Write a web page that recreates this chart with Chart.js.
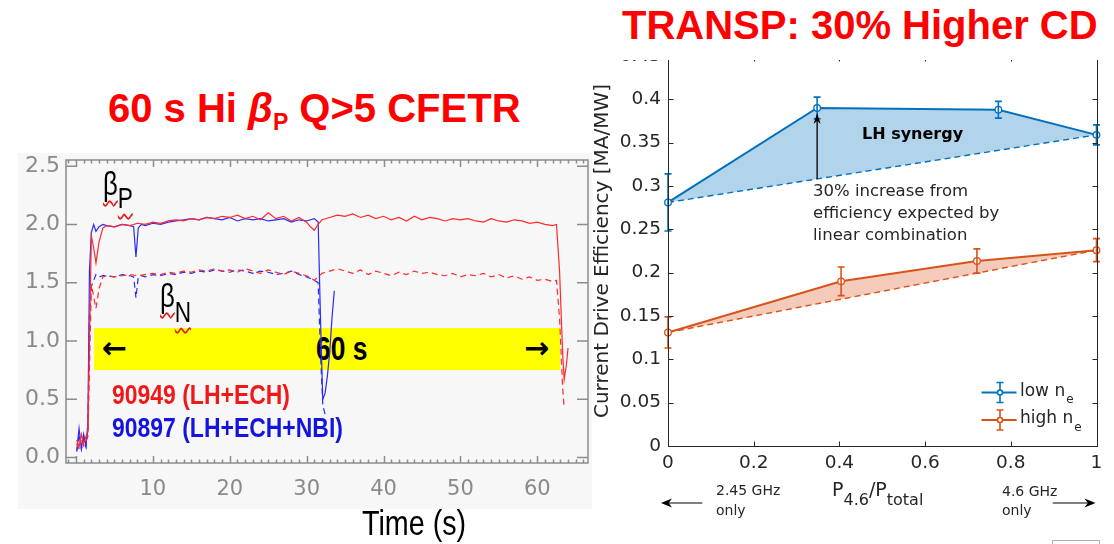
<!DOCTYPE html>
<html lang="en">
<head>
  <meta charset="UTF-8">
  <title>60 s high beta_P pulse and TRANSP LH current drive</title>
  <script src="https://cdn.jsdelivr.net/npm/chart.js"></script>
</head>
<style>
  body {
    margin: 0;
    width: 1114px;
    height: 544px;
    position: relative;
    overflow: hidden;
    background: #fff;
    font-family: 'DejaVu Sans', sans-serif;
    color: #262626;
  }

  .abs { position: absolute; white-space: nowrap; }
  canvas { position: absolute; }

  .headline {
    font-family: 'Liberation Sans', Arial, sans-serif;
    font-weight: bold;
    font-size: 40px;
    line-height: 40px;
    color: #ff0000;
  }

  /* condensed look for the slide annotations */
  .narrow {
    font-family: 'Liberation Sans', Arial, sans-serif;
    transform-origin: 0 50%;
  }

  .wavy {
    text-decoration: underline wavy #e21b1b;
    text-decoration-skip-ink: none;
    text-decoration-thickness: 1.5px;
    text-underline-offset: 5px;
  }

  .sub { position: relative; }
</style>
<body>

<div class="abs headline" style="left:108px; top:88px;">60 s Hi <i>β</i><span class="sub" style="font-size:23px; top:8px;">P</span> Q&gt;5 CFETR</div>

<!-- left panel: beta_P / beta_N traces -->
<div class="abs" style="left:18px; top:153px; width:574px; height:356px; background:#f7f7f7;"></div>
<div class="abs" style="left:94px; top:328px; width:466px; height:42px; background:#ffff00; color:#000;">
  <span class="abs" style="left:8px; top:-1px; font-weight:bold; font-size:30px; line-height:42px;">←</span>
  <span class="abs narrow" style="left:222px; top:0; font-weight:bold; font-size:33px; line-height:42px; transform:scaleX(0.8);">60 s</span>
  <span class="abs" style="left:430px; top:-1px; font-weight:bold; font-size:30px; line-height:42px;">→</span>
</div>
<canvas id="betaChart" width="600" height="394" style="left:0; top:150px;"></canvas>

<div class="abs narrow" style="left:103px; top:167px; font-size:33px; line-height:33px; color:#000; transform:scaleX(0.78);">
  <span class="wavy">β</span><span class="wavy sub" style="font-size:29px; top:13px;">P</span>
</div>
<div class="abs narrow" style="left:160px; top:279px; font-size:33px; line-height:33px; color:#000; transform:scaleX(0.78);">
  <span class="wavy">β</span><span class="wavy sub" style="font-size:29px; top:15px;">N</span>
</div>
<div class="abs narrow" style="left:112px; top:381px; font-weight:bold; font-size:28px; line-height:28px; color:#f21818; transform:scaleX(0.82);">90949 (LH+ECH)</div>
<div class="abs narrow" style="left:112px; top:414px; font-weight:bold; font-size:28px; line-height:28px; color:#1414e0; transform:scaleX(0.82);">90897 (LH+ECH+NBI)</div>
<div class="abs narrow" style="left:362px; top:505px; font-size:35px; line-height:35px; color:#000; transform:scaleX(0.82);">Time (s)</div>

<!-- right panel: current drive efficiency -->
<canvas id="cdChart" width="524" height="504" style="left:590px; top:40px;"></canvas>
<div class="abs" style="left:600px; top:0; width:514px; height:60px; background:#fff;"></div>
<div class="abs headline" style="left:622px; top:5px;">TRANSP: 30% Higher CD</div>

<div class="abs" style="left:862px; top:126px; font-weight:bold; font-size:16px; line-height:16px; color:#000;">LH synergy</div>
<div class="abs" style="left:813px; top:180px; font-size:16.5px; line-height:22.2px;">30% increase from<br>efficiency expected by<br>linear combination</div>
<div class="abs" style="left:832px; top:480px; font-size:19px; line-height:19px;">P<span class="sub" style="font-size:16px; top:9px;">4.6</span>/P<span class="sub" style="font-size:16px; top:9px;">total</span></div>
<div class="abs" style="left:716px; top:480px; font-size:14px; line-height:20px;">2.45 GHz<br>only</div>
<div class="abs" style="left:1002px; top:482px; font-size:14px; line-height:19px;">4.6 GHz<br>only</div>
<div class="abs" style="left:1052px; top:540px; width:46px; height:10px; border:1px solid #b0b0b0; border-bottom:none;"></div>

<script>
  // Shot 90949 (LH+ECH): time [s], beta_P, beta_N
  const tRed = [0.1, 0.4, 0.7, 1.0, 1.3, 1.55, 1.8, 2.0, 2.3, 2.6, 3.0, 3.5,
    4, 5, 6, 7, 8, 9, 10, 11, 12, 13, 14, 15, 16, 17, 18, 19, 20, 21, 22, 23, 24, 25, 26, 27, 28, 29, 30,
    30.5, 31, 31.5, 32,
    33, 34, 35, 36, 37, 38, 39, 40, 41, 42, 43, 44, 45, 46, 47, 48, 49, 50, 51, 52, 53, 54, 55, 56, 57, 58, 59, 60, 61, 62,
    62.5, 62.9, 63.3, 63.5, 63.8, 64.0];
  const bpRed = [0.15, 0.09, 0.2, 0.12, 0.18, 0.22, 1.2, 1.9, 1.8, 1.67, 1.85, 1.97,
    1.99, 1.98, 2.0, 1.99, 2.01, 2.0, 2.02, 2.01, 2.03, 2.04, 2.03, 2.05, 2.04, 2.06, 2.05, 2.07, 2.06, 2.08, 2.05, 2.07, 2.04, 2.1, 2.05, 2.07, 2.03, 2.06, 2.02,
    1.98, 1.95, 2.0, 2.04,
    2.06, 2.08, 2.07, 2.09, 2.06, 2.08, 2.05, 2.07, 2.04, 2.06, 2.03, 2.07, 2.04, 2.06, 2.05, 2.03, 2.05, 2.04, 2.05, 2.03, 2.02, 2.05, 2.03, 2.02, 2.04, 2.03, 2.01, 2.02, 2.0, 1.99,
    2.0, 1.6, 0.9, 0.67, 0.8, 0.94];
  const bnRed = [0.12, 0.07, 0.16, 0.1, 0.14, 0.18, 0.9, 1.48, 1.38, 1.28, 1.45, 1.55,
    1.56, 1.55, 1.56, 1.57, 1.56, 1.57, 1.58, 1.57, 1.59, 1.58, 1.6, 1.59, 1.61, 1.6, 1.62, 1.6, 1.61, 1.59, 1.62, 1.6, 1.58, 1.61, 1.59, 1.57, 1.6, 1.58, 1.56,
    1.54, 1.52, 1.55, 1.58,
    1.6, 1.62, 1.6, 1.58, 1.61, 1.57, 1.6, 1.58, 1.56, 1.59, 1.57, 1.6, 1.58, 1.59, 1.57, 1.56, 1.58, 1.55, 1.57, 1.56, 1.58, 1.55, 1.57, 1.54, 1.56, 1.53, 1.55, 1.52, 1.53, 1.51,
    1.52, 1.2, 0.6, 0.43, null, null];

  // Shot 90897 (LH+ECH+NBI)
  const tBlue = [0.1, 0.4, 0.7, 1.0, 1.3, 1.55, 1.75, 2.0, 2.3, 2.6, 3.0, 3.5,
    4, 5, 6, 7, 7.5, 7.8, 8.1, 8.5, 9, 10,
    11, 12, 13, 14, 15, 16, 17, 18, 19, 20, 21, 22, 23, 24, 25, 26, 27, 28, 29, 30, 31,
    31.5, 31.8, 32.1, 32.4, 32.7, 33.0, 33.3, 33.6];
  const bpBlue = [0.06, 0.25, 0.08, 0.2, 0.1, 0.3, 1.6, 1.93, 2.0, 1.94, 1.98, 2.0,
    1.99, 1.98, 2.0, 1.99, 1.98, 1.72, 1.97, 2.0, 1.99, 2.01,
    2.0, 2.02, 2.03, 2.04, 2.05, 2.04, 2.06, 2.05, 2.04, 2.06, 2.03, 2.05, 2.04, 2.05, 2.03, 2.04, 2.05, 2.02, 2.04, 2.03, 2.05,
    2.02, 1.2, 0.5, 0.55, 0.7, 0.9, 1.2, 1.43];
  const bnBlue = [0.05, 0.2, 0.07, 0.16, 0.09, 0.25, 1.2, 1.47, 1.52, 1.57, 1.55, 1.56,
    1.56, 1.55, 1.57, 1.56, 1.55, 1.37, 1.55, 1.56, 1.55, 1.57,
    1.56, 1.58, 1.57, 1.59, 1.58, 1.6, 1.59, 1.61, 1.6, 1.59, 1.61, 1.6, 1.58, 1.6, 1.59, 1.57, 1.58, 1.6, 1.57, 1.55, 1.52,
    1.5, 0.9, 0.45, 0.37, null, null, null, null];

  const xTicksLeft = [10, 20, 30, 40, 50, 60];
  const yTicksLeft = [0, 0.5, 1, 1.5, 2, 2.5];

  // TRANSP: CD efficiency [MA/MW] vs P_4.6 / P_total
  const lowX = [0, 0.348, 0.771, 1];
  const lowY = [0.281, 0.39, 0.388, 0.359];
  const lowErr = [0.033, 0.0125, 0.0097, 0.0115];
  const highX = [0, 0.404, 0.721, 1];
  const highY = [0.131, 0.19, 0.2135, 0.226];
  const highErr = [0.018, 0.0165, 0.014, 0.0133];

  const xTicksRight = [0, 0.2, 0.4, 0.6, 0.8, 1];
  const yTicksRight = [0, 0.05, 0.1, 0.15, 0.2, 0.25, 0.3, 0.35, 0.4, 0.45];
  const legendLabels = ['low n', 'high n'];

  const RED_TRACE = '#ff2a2a';
  const BLUE_TRACE = '#2a2aff';
  const LOW_COLOR = '#0072bd';
  const HIGH_COLOR = '#d95319';

  Chart.defaults.font.family = "'DejaVu Sans', sans-serif";

  const pts = (xs, ys) => xs.map((x, i) => ({ x: x, y: ys[i] }));
  const ends = (xs, ys) => pts([xs[0], xs[xs.length - 1]], [ys[0], ys[ys.length - 1]]);

  // gray IDL-style box with inward ticks
  const betaFrame = {
    id: 'betaFrame',
    beforeDatasetsDraw(chart) {
      const { ctx, chartArea: a, scales: { x, y } } = chart;
      ctx.save();
      ctx.strokeStyle = '#8c8c8c';
      ctx.lineWidth = 1.5;
      ctx.strokeRect(a.left, a.top, a.right - a.left, a.bottom - a.top);
      ctx.beginPath();
      yTicksLeft.forEach(v => {
        const py = y.getPixelForValue(v);
        ctx.moveTo(a.left, py); ctx.lineTo(a.left + 11, py);
        ctx.moveTo(a.right, py); ctx.lineTo(a.right - 11, py);
      });
      for (let t = Math.ceil(x.min); t <= x.max; t++) {
        const px = Math.round(x.getPixelForValue(t)) + 0.5;
        const len = t % 10 === 0 ? 7 : 3.5;
        ctx.moveTo(px, a.bottom); ctx.lineTo(px, a.bottom - len);
        ctx.moveTo(px, a.top); ctx.lineTo(px, a.top + len);
      }
      ctx.stroke();
      ctx.restore();
    }
  };

  new Chart(document.getElementById('betaChart'), {
    type: 'line',
    data: {
      datasets: [
        { label: 'beta_P 90949', data: pts(tRed, bpRed), borderColor: RED_TRACE, borderWidth: 1.2 },
        { label: 'beta_N 90949', data: pts(tRed, bnRed), borderColor: RED_TRACE, borderWidth: 1.2, borderDash: [6, 4] },
        { label: 'beta_P 90897', data: pts(tBlue, bpBlue), borderColor: BLUE_TRACE, borderWidth: 1.2 },
        { label: 'beta_N 90897', data: pts(tBlue, bnBlue), borderColor: BLUE_TRACE, borderWidth: 1.2, borderDash: [6, 4] }
      ]
    },
    options: {
      responsive: false,
      animation: false,
      elements: { point: { radius: 0 }, line: { tension: 0 } },
      layout: { padding: { left: 20, top: 10, right: 12, bottom: 0 } },
      plugins: { legend: { display: false }, tooltip: { enabled: false } },
      scales: {
        x: {
          type: 'linear',
          min: -1.3,
          max: 66.6,
          grid: { display: false, drawTicks: false },
          border: { display: false },
          afterBuildTicks: s => { s.ticks = xTicksLeft.map(v => ({ value: v })); },
          afterFit: s => { s.height = 81; s.paddingLeft = 0; s.paddingRight = 0; },
          ticks: { color: '#8a8a8a', font: { size: 21 }, padding: 14, maxRotation: 0, autoSkip: false }
        },
        y: {
          min: -0.047,
          max: 2.553,
          grid: { display: false, drawTicks: false },
          border: { display: false },
          afterBuildTicks: s => { s.ticks = yTicksLeft.map(v => ({ value: v })); },
          afterFit: s => { s.width = 46; s.paddingTop = 0; s.paddingBottom = 0; },
          ticks: { color: '#8a8a8a', font: { size: 22 }, padding: 6, autoSkip: false, callback: v => v.toFixed(1) }
        }
      }
    },
    plugins: [betaFrame]
  });

  // filled arrow head pointing from (x0,y0) towards (x1,y1)
  function arrow(ctx, x0, y0, x1, y1, len, half) {
    const ang = Math.atan2(y1 - y0, x1 - x0);
    const c = Math.cos(ang), s = Math.sin(ang);
    ctx.beginPath();
    ctx.moveTo(x0, y0);
    ctx.lineTo(x1 - c * len * 0.6, y1 - s * len * 0.6);
    ctx.stroke();
    ctx.beginPath();
    ctx.moveTo(x1, y1);
    ctx.lineTo(x1 - c * len - s * half, y1 - s * len + c * half);
    ctx.lineTo(x1 - c * len * 0.7, y1 - s * len * 0.7);
    ctx.lineTo(x1 - c * len + s * half, y1 - s * len - c * half);
    ctx.closePath();
    ctx.fill();
  }

  // MATLAB-like axes box, error bars, annotation arrows and legend
  const cdOverlay = {
    id: 'cdOverlay',
    afterDatasetsDraw(chart) {
      const { ctx, chartArea: a, scales: { x, y } } = chart;
      ctx.save();

      // error bars
      [[lowX, lowY, lowErr, LOW_COLOR], [highX, highY, highErr, HIGH_COLOR]].forEach(([xs, ys, es, col]) => {
        ctx.strokeStyle = col;
        ctx.lineWidth = 1.6;
        ctx.beginPath();
        xs.forEach((xv, i) => {
          const px = x.getPixelForValue(xv);
          const top = y.getPixelForValue(ys[i] + es[i]);
          const bot = y.getPixelForValue(ys[i] - es[i]);
          ctx.moveTo(px, top); ctx.lineTo(px, bot);
          ctx.moveTo(px - 3.5, top); ctx.lineTo(px + 3.5, top);
          ctx.moveTo(px - 3.5, bot); ctx.lineTo(px + 3.5, bot);
        });
        ctx.stroke();
      });

      // axes box with inward ticks
      const L = Math.round(a.left) + 0.5, R = Math.round(a.right) + 0.5;
      const T = Math.round(a.top) + 0.5, B = Math.round(a.bottom) + 0.5;
      ctx.strokeStyle = '#262626';
      ctx.lineWidth = 1;
      ctx.beginPath();
      ctx.rect(L, T, R - L, B - T);
      yTicksRight.forEach(v => {
        const py = Math.round(y.getPixelForValue(v)) + 0.5;
        ctx.moveTo(L, py); ctx.lineTo(L + 5, py);
        ctx.moveTo(R, py); ctx.lineTo(R - 5, py);
      });
      xTicksRight.forEach(v => {
        const px = Math.round(x.getPixelForValue(v)) + 0.5;
        ctx.moveTo(px, B); ctx.lineTo(px, B - 5);
        ctx.moveTo(px, T); ctx.lineTo(px, T + 5);
      });
      ctx.stroke();

      // synergy arrow: linear combination -> computed value
      ctx.strokeStyle = '#000';
      ctx.fillStyle = '#000';
      ctx.lineWidth = 1.3;
      const sx = lowX[1];
      const linVal = lowY[0] + (lowY[lowY.length - 1] - lowY[0]) * (sx - lowX[0]) / (lowX[lowX.length - 1] - lowX[0]);
      const ax = x.getPixelForValue(sx);
      arrow(ctx, ax, y.getPixelForValue(linVal), ax, y.getPixelForValue(lowY[1]) + 5, 11, 3.5);

      // frequency arrows under the x axis
      const ay = a.bottom + 57;
      ctx.lineWidth = 1;
      arrow(ctx, x.getPixelForValue(0.08), ay, x.getPixelForValue(0) - 7, ay, 11, 4.5);
      arrow(ctx, x.getPixelForValue(0.898), ay, x.getPixelForValue(1) - 1, ay, 11, 4.5);

      // legend
      [LOW_COLOR, HIGH_COLOR].forEach((col, i) => {
        const cy = a.bottom - 53.5 + i * 27.5;
        const mx = a.right - 96.5;
        ctx.strokeStyle = col;
        ctx.lineWidth = 2;
        ctx.beginPath();
        ctx.moveTo(a.right - 115, cy); ctx.lineTo(a.right - 80, cy);
        ctx.stroke();
        ctx.lineWidth = 1.6;
        ctx.beginPath();
        ctx.moveTo(mx, cy - 10); ctx.lineTo(mx, cy + 10);
        ctx.moveTo(mx - 3.5, cy - 10); ctx.lineTo(mx + 3.5, cy - 10);
        ctx.moveTo(mx - 3.5, cy + 10); ctx.lineTo(mx + 3.5, cy + 10);
        ctx.stroke();
        ctx.beginPath();
        ctx.arc(mx, cy, 2.5, 0, Math.PI * 2);
        ctx.fillStyle = '#fff';
        ctx.fill();
        ctx.stroke();

        ctx.fillStyle = '#262626';
        ctx.textBaseline = 'alphabetic';
        ctx.font = "17px 'DejaVu Sans'";
        const tx = a.right - 76.5;
        ctx.fillText(legendLabels[i], tx, cy + 3);
        const w = ctx.measureText(legendLabels[i]).width;
        ctx.font = "12px 'DejaVu Sans'";
        ctx.fillText('e', tx + w + 1, cy + 10.5);
      });

      ctx.restore();
    }
  };

  const lineStyle = (col, fillCol, target) => ({
    borderColor: col,
    borderWidth: 2,
    backgroundColor: fillCol,
    pointRadius: 3.3,
    pointBorderWidth: 1.3,
    pointBorderColor: col,
    pointBackgroundColor: '#fff',
    fill: { target: target, above: fillCol, below: fillCol },
    clip: 10
  });
  const dashStyle = col => ({
    borderColor: col,
    borderWidth: 1.4,
    borderDash: [6, 4],
    pointRadius: 0,
    fill: false,
    clip: 10
  });

  new Chart(document.getElementById('cdChart'), {
    type: 'line',
    data: {
      datasets: [
        Object.assign({ label: 'low n_e', data: pts(lowX, lowY) }, lineStyle(LOW_COLOR, 'rgba(0,114,189,0.3)', 1)),
        Object.assign({ label: 'low n_e linear', data: ends(lowX, lowY) }, dashStyle(LOW_COLOR)),
        Object.assign({ label: 'high n_e', data: pts(highX, highY) }, lineStyle(HIGH_COLOR, 'rgba(217,83,25,0.3)', 3)),
        Object.assign({ label: 'high n_e linear', data: ends(highX, highY) }, dashStyle(HIGH_COLOR))
      ]
    },
    options: {
      responsive: false,
      animation: false,
      elements: { line: { tension: 0 } },
      layout: { padding: { left: 0, top: 16, right: 17.5, bottom: 58 } },
      plugins: { legend: { display: false }, tooltip: { enabled: false } },
      scales: {
        x: {
          type: 'linear',
          min: 0,
          max: 1,
          grid: { display: false, drawTicks: false },
          border: { display: false },
          afterBuildTicks: s => { s.ticks = xTicksRight.map(v => ({ value: v })); },
          afterFit: s => { s.height = 40; s.paddingLeft = 0; s.paddingRight = 0; },
          ticks: { color: '#262626', font: { size: 18.5 }, padding: 6, maxRotation: 0, autoSkip: false, callback: v => String(v) }
        },
        y: {
          min: 0,
          max: 0.45,
          grid: { display: false, drawTicks: false },
          border: { display: false },
          afterBuildTicks: s => { s.ticks = yTicksRight.map(v => ({ value: v })); },
          afterFit: s => { s.width = 78; s.paddingTop = 0; s.paddingBottom = 0; },
          ticks: { color: '#262626', font: { size: 18.5 }, padding: 7, autoSkip: false, callback: v => String(v) },
          title: {
            display: true,
            text: 'Current Drive Efficiency [MA/MW]',
            color: '#262626',
            font: { size: 20 },
            padding: { top: 1, bottom: 0 }
          }
        }
      }
    },
    plugins: [cdOverlay]
  });
</script>
</body>
</html>
